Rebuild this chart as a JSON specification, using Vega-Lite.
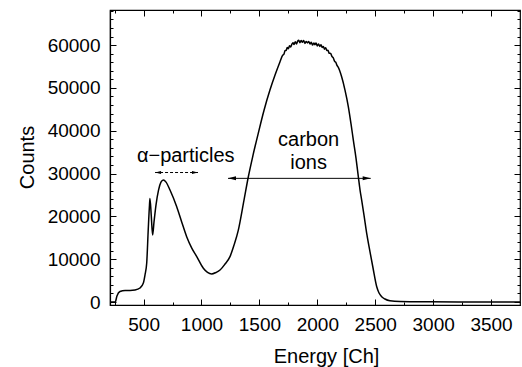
{
  "$schema": "https://vega.github.io/schema/vega-lite/v6.json",
  "width": 410,
  "height": 295,
  "autosize": {"type": "none"},
  "padding": {"left": 110, "top": 10, "right": 2, "bottom": 62},
  "background": "white",
  "config": {
    "view": {"stroke": "black", "strokeWidth": 1.2},
    "font": "Liberation Sans",
    "axis": {
      "domainColor": "black", "domainWidth": 1.2, "tickColor": "black", "tickWidth": 1,
      "labelColor": "black", "titleColor": "black", "grid": false,
      "labelFont": "Liberation Sans", "titleFont": "Liberation Sans",
      "labelFontSize": 19, "titleFontSize": 20, "titleFontWeight": "normal"
    }
  },
  "datasets": {
    "curve": [
      {"energy": 210, "counts": 0}, {"energy": 255, "counts": 0},
      {"energy": 270, "counts": 1400}, {"energy": 296, "counts": 2450},
      {"energy": 340, "counts": 2690}, {"energy": 383, "counts": 2690},
      {"energy": 426, "counts": 2800}, {"energy": 469, "counts": 3270},
      {"energy": 498, "counts": 4440}, {"energy": 512, "counts": 6300},
      {"energy": 527, "counts": 9100}, {"energy": 540, "counts": 16800},
      {"energy": 551, "counts": 22650}, {"energy": 555, "counts": 24200},
      {"energy": 566, "counts": 20300}, {"energy": 578, "counts": 15650},
      {"energy": 590, "counts": 18700}, {"energy": 607, "counts": 22650},
      {"energy": 629, "counts": 26150}, {"energy": 650, "counts": 28000},
      {"energy": 670, "counts": 28500}, {"energy": 694, "counts": 28000},
      {"energy": 728, "counts": 26150}, {"energy": 786, "counts": 22250},
      {"energy": 829, "counts": 18700}, {"energy": 872, "counts": 15250},
      {"energy": 916, "counts": 12600}, {"energy": 959, "counts": 10600},
      {"energy": 1016, "counts": 7870}, {"energy": 1052, "counts": 6900},
      {"energy": 1088, "counts": 6540}, {"energy": 1125, "counts": 6900},
      {"energy": 1160, "counts": 7470}, {"energy": 1203, "counts": 8870},
      {"energy": 1246, "counts": 10600}, {"energy": 1281, "counts": 13300},
      {"energy": 1318, "counts": 16800}, {"energy": 1367, "counts": 23800},
      {"energy": 1404, "counts": 29200}, {"energy": 1445, "counts": 34300},
      {"energy": 1490, "counts": 39400}, {"energy": 1540, "counts": 44800},
      {"energy": 1591, "counts": 49500}, {"energy": 1635, "counts": 53000},
      {"energy": 1678, "counts": 56100}, {"energy": 1700, "counts": 57600},
      {"energy": 1712, "counts": 57900}, {"energy": 1722, "counts": 58750},
      {"energy": 1731, "counts": 58750}, {"energy": 1740, "counts": 59450},
      {"energy": 1750, "counts": 59150}, {"energy": 1760, "counts": 59850},
      {"energy": 1770, "counts": 59550}, {"energy": 1780, "counts": 60200},
      {"energy": 1790, "counts": 60550}, {"energy": 1799, "counts": 60150},
      {"energy": 1810, "counts": 60800}, {"energy": 1820, "counts": 60250},
      {"energy": 1830, "counts": 60900}, {"energy": 1840, "counts": 61150},
      {"energy": 1850, "counts": 60550}, {"energy": 1860, "counts": 61100},
      {"energy": 1871, "counts": 60650}, {"energy": 1882, "counts": 61100},
      {"energy": 1893, "counts": 60400}, {"energy": 1904, "counts": 60850},
      {"energy": 1915, "counts": 60500}, {"energy": 1926, "counts": 60850},
      {"energy": 1937, "counts": 60250}, {"energy": 1948, "counts": 60650},
      {"energy": 1959, "counts": 60000}, {"energy": 1970, "counts": 60500},
      {"energy": 1980, "counts": 60100}, {"energy": 1989, "counts": 60500},
      {"energy": 2000, "counts": 59800}, {"energy": 2011, "counts": 60250},
      {"energy": 2022, "counts": 59700}, {"energy": 2032, "counts": 60100},
      {"energy": 2042, "counts": 59450}, {"energy": 2052, "counts": 59700},
      {"energy": 2062, "counts": 59050}, {"energy": 2072, "counts": 59400},
      {"energy": 2082, "counts": 58750}, {"energy": 2092, "counts": 58800},
      {"energy": 2102, "counts": 58100}, {"energy": 2115, "counts": 58050},
      {"energy": 2126, "counts": 57350}, {"energy": 2138, "counts": 57000},
      {"energy": 2150, "counts": 56200}, {"energy": 2160, "counts": 55950},
      {"energy": 2170, "counts": 55250}, {"energy": 2179, "counts": 54900},
      {"energy": 2210, "counts": 52600}, {"energy": 2239, "counts": 49500},
      {"energy": 2268, "counts": 45600}, {"energy": 2291, "counts": 41600},
      {"energy": 2311, "counts": 37800}, {"energy": 2334, "counts": 33600},
      {"energy": 2354, "counts": 29300}, {"energy": 2369, "counts": 26150},
      {"energy": 2383, "counts": 23800}, {"energy": 2403, "counts": 20300},
      {"energy": 2429, "counts": 15600}, {"energy": 2455, "counts": 11700},
      {"energy": 2481, "counts": 7940}, {"energy": 2513, "counts": 3570},
      {"energy": 2533, "counts": 2100}, {"energy": 2556, "counts": 1240},
      {"energy": 2584, "counts": 700}, {"energy": 2627, "counts": 300},
      {"energy": 2714, "counts": 120}, {"energy": 2973, "counts": 50},
      {"energy": 3232, "counts": 20}, {"energy": 3491, "counts": 0},
      {"energy": 3750, "counts": 0}
    ],
    "labels": [
      {"text": "α−particles", "energy": 864, "counts": 32760},
      {"text": "carbon", "energy": 1925, "counts": 36460},
      {"text": "ions", "energy": 1925, "counts": 30990}
    ],
    "arrows": [
      {"name": "alpha", "from": 599, "to": 970, "counts": 30240},
      {"name": "carbon", "from": 1229, "to": 2461, "counts": 28880}
    ]
  },
  "resolve": {"axis": {"x": "independent", "y": "independent"}},
  "layer": [
    {
      "data": {"name": "curve"},
      "mark": {"type": "line", "color": "black", "strokeWidth": 1.5, "strokeJoin": "round", "interpolate": "monotone"},
      "encoding": {
        "x": {"field": "energy", "type": "quantitative",
          "scale": {"domain": [210, 3750], "nice": false, "zero": false},
          "axis": {"orient": "bottom", "values": [500, 1000, 1500, 2000, 2500, 3000, 3500],
            "tickSize": -6, "labelPadding": 16, "labelFlush": false, "format": "d",
            "title": "Energy [Ch]", "titleX": 216, "titleY": 57, "titleBaseline": "alphabetic", "titleAlign": "center"}},
        "y": {"field": "counts", "type": "quantitative",
          "scale": {"domain": [-700, 68200], "nice": false, "zero": false},
          "axis": {"orient": "left", "values": [0, 10000, 20000, 30000, 40000, 50000, 60000],
            "tickSize": -6, "labelPadding": 16, "labelFlush": false, "format": "d",
            "title": "Counts", "titleX": -77, "titleY": 147, "titleAngle": -90, "titleBaseline": "alphabetic", "titleAlign": "center"}}
      }
    },
    {
      "data": {"name": "curve"},
      "mark": {"type": "line", "strokeOpacity": 0},
      "encoding": {
        "x": {"field": "energy", "type": "quantitative",
          "scale": {"domain": [210, 3750], "nice": false, "zero": false},
          "axis": {"orient": "bottom", "values": [250, 750, 1250, 1750, 2250, 2750, 3250],
            "tickSize": -3, "labels": false, "domain": false, "title": null}},
        "y": {"field": "counts", "type": "quantitative",
          "scale": {"domain": [-700, 68200], "nice": false, "zero": false},
          "axis": {"orient": "left", "values": [2000, 4000, 6000, 8000, 12000, 14000, 16000, 18000, 22000, 24000, 26000, 28000, 32000, 34000, 36000, 38000, 42000, 44000, 46000, 48000, 52000, 54000, 56000, 58000, 62000, 64000, 66000, 68000],
            "tickSize": -3, "labels": false, "domain": false, "title": null}}
      }
    },
    {
      "data": {"name": "curve"},
      "mark": {"type": "line", "strokeOpacity": 0},
      "encoding": {
        "x": {"field": "energy", "type": "quantitative",
          "scale": {"domain": [210, 3750], "nice": false, "zero": false},
          "axis": {"orient": "top", "values": [500, 1000, 1500, 2000, 2500, 3000, 3500],
            "tickSize": -6, "labels": false, "domain": false, "title": null}},
        "y": {"field": "counts", "type": "quantitative",
          "scale": {"domain": [-700, 68200], "nice": false, "zero": false},
          "axis": {"orient": "right", "values": [0, 10000, 20000, 30000, 40000, 50000, 60000],
            "tickSize": -6, "labels": false, "domain": false, "title": null}}
      }
    },
    {
      "data": {"name": "curve"},
      "mark": {"type": "line", "strokeOpacity": 0},
      "encoding": {
        "x": {"field": "energy", "type": "quantitative",
          "scale": {"domain": [210, 3750], "nice": false, "zero": false},
          "axis": {"orient": "top", "values": [250, 750, 1250, 1750, 2250, 2750, 3250],
            "tickSize": -3, "labels": false, "domain": false, "title": null}},
        "y": {"field": "counts", "type": "quantitative",
          "scale": {"domain": [-700, 68200], "nice": false, "zero": false},
          "axis": {"orient": "right", "values": [2000, 4000, 6000, 8000, 12000, 14000, 16000, 18000, 22000, 24000, 26000, 28000, 32000, 34000, 36000, 38000, 42000, 44000, 46000, 48000, 52000, 54000, 56000, 58000, 62000, 64000, 66000, 68000],
            "tickSize": -3, "labels": false, "domain": false, "title": null}}
      }
    },
    {
      "data": {"name": "labels"},
      "mark": {"type": "text", "font": "Liberation Sans", "fontSize": 20, "color": "black", "align": "center", "baseline": "alphabetic"},
      "encoding": {
        "x": {"field": "energy", "type": "quantitative", "scale": {"domain": [210, 3750], "nice": false, "zero": false}, "axis": null},
        "y": {"field": "counts", "type": "quantitative", "scale": {"domain": [-700, 68200], "nice": false, "zero": false}, "axis": null},
        "text": {"field": "text"}
      }
    },
    {
      "data": {"name": "arrows"},
      "mark": {"type": "rule", "color": "black", "strokeWidth": 1},
      "encoding": {
        "x": {"field": "from", "type": "quantitative", "scale": {"domain": [210, 3750], "nice": false, "zero": false}, "axis": null},
        "x2": {"field": "to"},
        "y": {"field": "counts", "type": "quantitative", "scale": {"domain": [-700, 68200], "nice": false, "zero": false}, "axis": null},
        "strokeDash": {"condition": {"test": "datum.name === 'alpha'", "value": [3, 2]}, "value": [1, 0]}
      }
    },
    {
      "data": {"name": "arrows"},
      "mark": {"type": "point", "filled": true, "color": "black", "opacity": 1, "strokeWidth": 0, "shape": "M0,0L2,-0.5L2,0.5Z"},
      "encoding": {
        "x": {"field": "from", "type": "quantitative", "scale": {"domain": [210, 3750], "nice": false, "zero": false}, "axis": null},
        "y": {"field": "counts", "type": "quantitative", "scale": {"domain": [-700, 68200], "nice": false, "zero": false}, "axis": null},
        "size": {"condition": {"test": "datum.name === 'alpha'", "value": 36}, "value": 64}
      }
    },
    {
      "data": {"name": "arrows"},
      "mark": {"type": "point", "filled": true, "color": "black", "opacity": 1, "strokeWidth": 0, "shape": "M0,0L-2,-0.5L-2,0.5Z"},
      "encoding": {
        "x": {"field": "to", "type": "quantitative", "scale": {"domain": [210, 3750], "nice": false, "zero": false}, "axis": null},
        "y": {"field": "counts", "type": "quantitative", "scale": {"domain": [-700, 68200], "nice": false, "zero": false}, "axis": null},
        "size": {"condition": {"test": "datum.name === 'alpha'", "value": 36}, "value": 64}
      }
    }
  ]
}
